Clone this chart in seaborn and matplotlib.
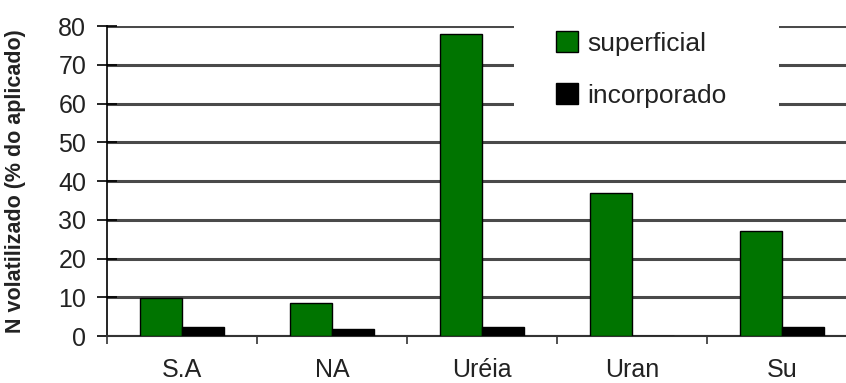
import matplotlib
matplotlib.use("Agg")
import matplotlib.pyplot as plt
import seaborn as sns
import pandas as pd
from matplotlib.patches import Patch, Rectangle

categories = ["S.A", "NA", "Uréia", "Uran", "Su"]
superficial = [9.8, 8.6, 78.0, 37.0, 27.0]
incorporado = [2.3, 1.8, 2.3, 0.0, 2.3]
series_names = ["superficial", "incorporado"]
y_ticks = [0, 10, 20, 30, 40, 50, 60, 70, 80]

df = pd.DataFrame({
    "cat": categories * 2,
    "val": superficial + incorporado,
    "serie": [series_names[0]] * len(categories) + [series_names[1]] * len(categories),
})

sns.set_theme(style="white")
plt.rcParams["font.family"] = ["Liberation Sans", "DejaVu Sans"]

W, H = 846, 383
fig = plt.figure(figsize=(W / 100, H / 100), dpi=100)
ax = fig.add_axes([107 / W, 1 - 336 / H, 750 / W, 310 / H])

colors = {"superficial": "#007400", "incorporado": "#000000"}
sns.barplot(data=df, x="cat", y="val", hue="serie", palette=colors,
            width=0.56, gap=0, edgecolor="black", linewidth=1.0,
            saturation=1, ax=ax, legend=False, zorder=3)

ax.set_xlim(-0.5, len(categories) - 0.5)
ax.set_ylim(0, 80)
ax.set_yticks(y_ticks)
ax.yaxis.grid(True, color="#4a4a4a", linewidth=2.2, zorder=0)
ax.set_axisbelow(True)

for s in ["top", "right"]:
    ax.spines[s].set_visible(False)
ax.spines["left"].set_color("black")
ax.spines["left"].set_linewidth(1.2)
ax.spines["bottom"].set_color("#333333")
ax.spines["bottom"].set_linewidth(1.5)

ax.tick_params(axis="y", which="major", direction="inout", length=14, width=1.2,
               color="black", labelsize=18, labelcolor="#222222", pad=8, left=True)
ax.set_xticks(range(len(categories)))
ax.set_xticklabels(categories)
ax.set_xticks([i - 0.5 for i in range(len(categories) + 1)], minor=True)
ax.tick_params(axis="x", which="major", length=0, labelsize=18,
               labelcolor="#222222", pad=16)
ax.tick_params(axis="x", which="minor", direction="out", length=6, width=1.2,
               color="#333333", bottom=True)

ax.set_xlabel("")
ax.set_ylabel("N volatilizado (% do aplicado)", fontsize=15.5, fontweight="bold",
              color="#222222")
ax.yaxis.set_label_coords((26 - 107) / 750, 0.5)

# white box behind the legend, interrupting the gridlines
ax.add_patch(Rectangle((514 / W, 1 - 118 / H), (779 - 514) / W, 108 / H,
                       transform=fig.transFigure, facecolor="white",
                       edgecolor="none", zorder=1))

handles = [Patch(facecolor=colors[n], edgecolor="black", linewidth=1.0) for n in series_names]
leg = fig.legend(handles, series_names, loc="upper left",
                 bbox_to_anchor=(556 / W, 1 - 31 / H), frameon=False,
                 fontsize=19, handlelength=0.85, handleheight=0.85,
                 handletextpad=0.35, labelspacing=1.05, borderpad=0,
                 borderaxespad=0)
for t in leg.get_texts():
    t.set_color("#222222")

fig.savefig("out.png", dpi=100)
